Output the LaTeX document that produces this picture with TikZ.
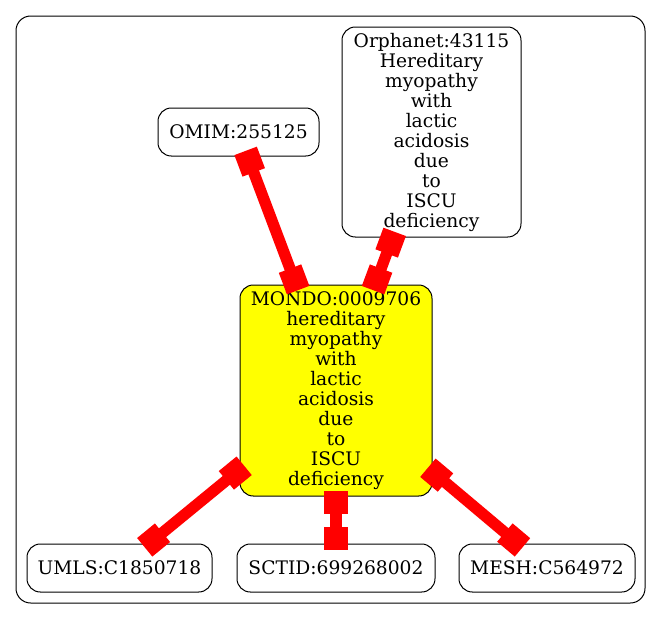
\documentclass[tikz,border=0pt]{standalone}
\usepackage{fontspec}
\setmainfont{DejaVu Serif}
\usetikzlibrary{arrows.meta}
\definecolor{ylw}{RGB}{255,255,0}
\definecolor{rd}{RGB}{255,0,0}
\begin{document}
\begin{tikzpicture}[x=0.75pt,y=-0.75pt,
  box/.style={draw=black, line width=0.75pt, rounded corners=10pt, inner sep=0pt, align=center,
    font=\fontsize{14pt}{15pt}\selectfont},
  link/.style={draw=rd, fill=rd, line width=8.5pt,
    {Square[length=17.25pt,width=18pt]}-{Square[length=17.25pt,width=18pt]},
    shorten <=-4.5pt, shorten >=-4.5pt}]
\useasboundingbox[fill=white] (0,0) rectangle (661,619);
\draw[rounded corners=11pt, line width=0.75pt] (16,16) rectangle (645,603);
\node[box, minimum width=120.75pt, minimum height=36pt] (omim) at (238.5,132) {OMIM:255125};
\node[box, minimum width=134.25pt, minimum height=157.5pt] (orpha) at (431.5,132)
  {Orphanet:43115\\Hereditary\\myopathy\\with\\lactic\\acidosis\\due\\to\\ISCU\\deficiency};
\node[box, fill=ylw, minimum width=144pt, minimum height=158.25pt] (mondo) at (336,390.5)
  {MONDO:0009706\\hereditary\\myopathy\\with\\lactic\\acidosis\\due\\to\\ISCU\\deficiency};
\node[box, minimum width=138.75pt, minimum height=36pt] (umls) at (119.5,568) {UMLS:C1850718};
\node[box, minimum width=148.5pt, minimum height=36pt] (sctid) at (336,568) {SCTID:699268002};
\node[box, minimum width=132pt, minimum height=36pt] (mesh) at (547,568) {MESH:C564972};
\draw[link] (omim) -- (mondo);
\draw[link] (orpha) -- (mondo);
\draw[link] (mondo) -- (umls);
\draw[link] (mondo) -- (sctid);
\draw[link] (mondo) -- (mesh);
\end{tikzpicture}
\end{document}
